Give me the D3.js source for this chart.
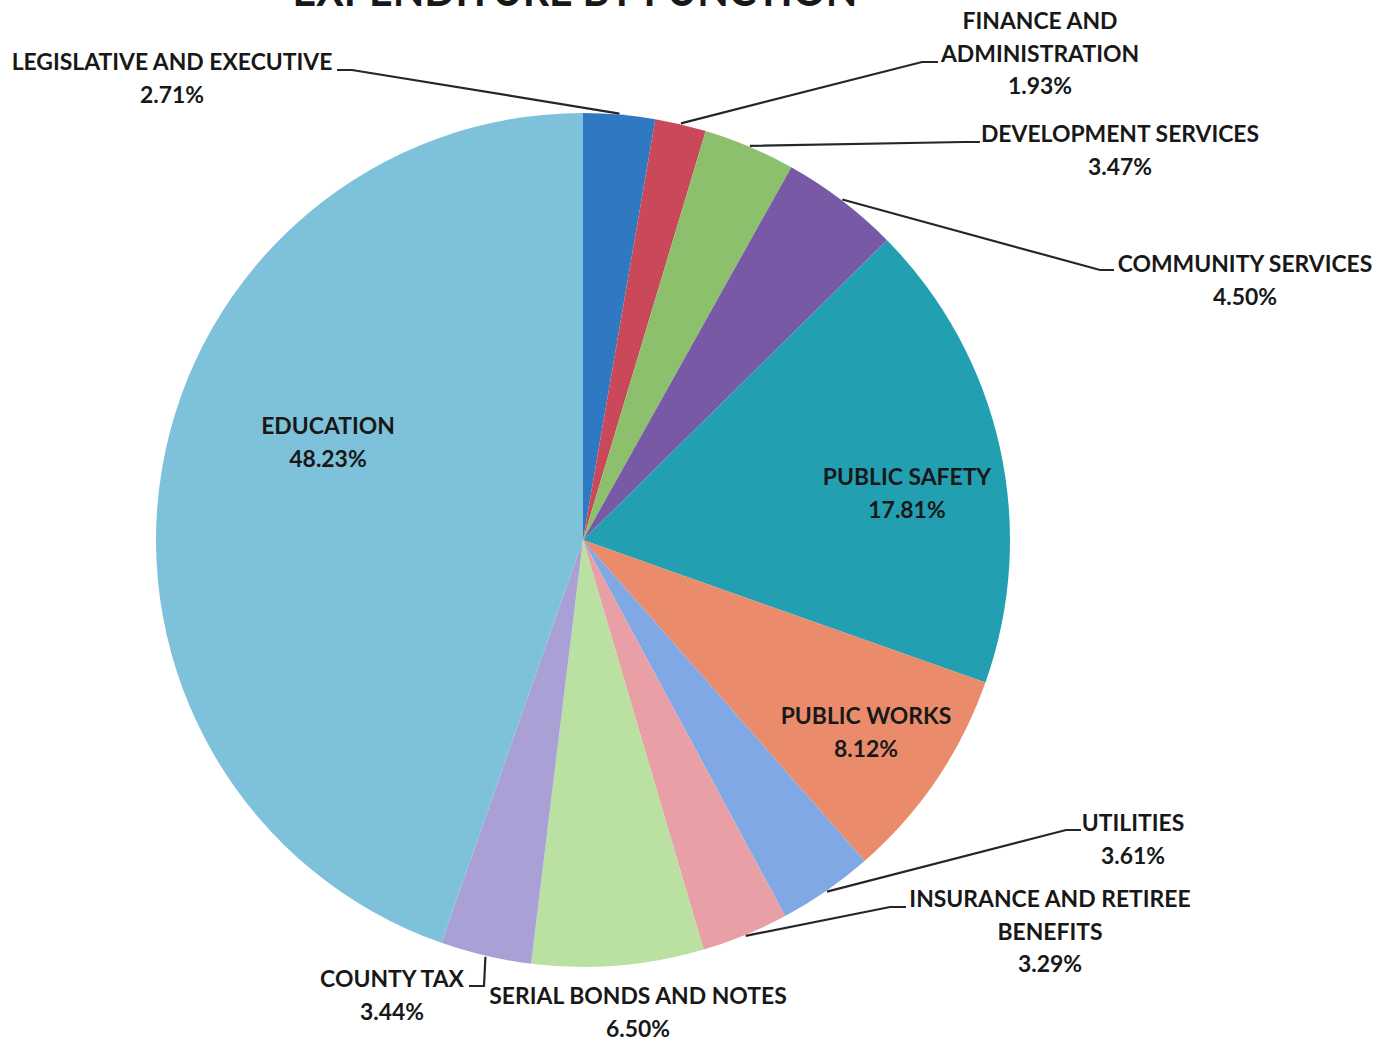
<!DOCTYPE html>
<html>
<head>
<meta charset="utf-8">
<script src="https://cdn.jsdelivr.net/npm/d3@7"></script>
<style>
  body { margin: 0; background: #fff; }
  svg text { font-family: Lato, "Open Sans", sans-serif; font-weight: 700; fill: #181818; }
</style>
</head>
<body>
<svg class="chart"></svg>
<script>
// categories clockwise from 12 o'clock
var categories = ["LEGISLATIVE AND EXECUTIVE", "FINANCE AND ADMINISTRATION", "DEVELOPMENT SERVICES",
    "COMMUNITY SERVICES", "PUBLIC SAFETY", "PUBLIC WORKS", "UTILITIES",
    "INSURANCE AND RETIREE BENEFITS", "SERIAL BONDS AND NOTES", "COUNTY TAX", "EDUCATION"];
// slice sizes as drawn (education fills what is left)
var shares = [2.71, 1.93, 3.47, 4.50, 17.81, 8.12, 3.61, 3.29, 6.50, 3.44, 44.62];
// percentages as printed on the labels
var pctLabels = ["2.71%", "1.93%", "3.47%", "4.50%", "17.81%", "8.12%", "3.61%", "3.29%", "6.50%", "3.44%", "48.23%"];
var colors = ["#2f79c2", "#c9495a", "#8cc06c", "#7859a6", "#22a0b2", "#ea8b6c",
    "#80a8e4", "#e8a0a6", "#bae0a2", "#a9a1d6", "#7dc1da"];

// label layout: text lines, centre x, first baseline, leader points from the text side
var labelLayout = [
    {lines: ["LEGISLATIVE AND EXECUTIVE"], x: 172, y: 70, leader: [[337, 70], [352, 70]]},
    {lines: ["FINANCE AND", "ADMINISTRATION"], x: 1040, y: 29, leader: [[938, 62], [922, 62]]},
    {lines: ["DEVELOPMENT SERVICES"], x: 1120, y: 142, leader: [[980, 142], [964, 142]]},
    {lines: ["COMMUNITY SERVICES"], x: 1245, y: 272, leader: [[1114, 270], [1100, 270]]},
    {lines: ["PUBLIC SAFETY"], x: 907, y: 485, leader: null},
    {lines: ["PUBLIC WORKS"], x: 866, y: 724, leader: null},
    {lines: ["UTILITIES"], x: 1133, y: 831, leader: [[1081, 830], [1066, 830]]},
    {lines: ["INSURANCE AND RETIREE", "BENEFITS"], x: 1050, y: 907, leader: [[906, 907], [890, 907]]},
    {lines: ["SERIAL BONDS AND NOTES"], x: 638, y: 1004, leader: null},
    {lines: ["COUNTY TAX"], x: 392, y: 987, leader: [[469, 986], [484, 986]]},
    {lines: ["EDUCATION"], x: 328, y: 434, leader: null}
];

var width = 1387, height = 1042,
    cx = 583, cy = 540, radius = 427,
    fontSize = 23.5, lineGap = 32.5;

var svg = d3.select(".chart")
    .attr("width", width)
    .attr("height", height);

// squeeze factor so the labels run as narrow as the original font
var probe = svg.append("text").style("font-size", fontSize + "px").text(categories[0]);
var squeeze = 321 / probe.node().getComputedTextLength();
probe.remove();

// title, mostly cut off by the top edge
var title = svg.append("text")
    .attr("text-anchor", "middle")
    .style("font-size", "43px")
    .text("EXPENDITURE BY FUNCTION");
var tScale = 565 / title.node().getComputedTextLength();
title.attr("transform", "translate(575,6) scale(" + tScale + ",1)");

var pie = d3.pie().sort(null).value(function(d) { return d; });
var arcs = pie(shares);

var arc = d3.arc().innerRadius(0).outerRadius(radius);
var edge = d3.arc().innerRadius(radius + 1).outerRadius(radius + 1);

var pieGroup = svg.append("g")
    .attr("transform", "translate(" + cx + "," + cy + ")");

pieGroup.selectAll(".slice").data(arcs).enter()
    .append("path")
    .attr("class", "slice")
    .attr("d", arc)
    .attr("fill", function(d, i) { return colors[i]; });

// leader lines
var line = d3.line();
labelLayout.forEach(function(lab, i) {
    if (!lab.leader) return;
    var c = edge.centroid(arcs[i]);
    var pts = lab.leader.concat([[c[0] + cx, c[1] + cy]]);
    svg.append("path")
        .attr("d", line(pts))
        .attr("fill", "none")
        .attr("stroke", "#262626")
        .attr("stroke-width", 2.2);
});

// labels
labelLayout.forEach(function(lab, i) {
    var rows = lab.lines.concat([pctLabels[i]]);
    rows.forEach(function(t, j) {
        svg.append("text")
            .attr("text-anchor", "middle")
            .style("font-size", fontSize + "px")
            .attr("transform", "translate(" + lab.x + "," + (lab.y + j * lineGap) + ") scale(" + squeeze + ",1)")
            .text(t);
    });
});
</script>
</body>
</html>
